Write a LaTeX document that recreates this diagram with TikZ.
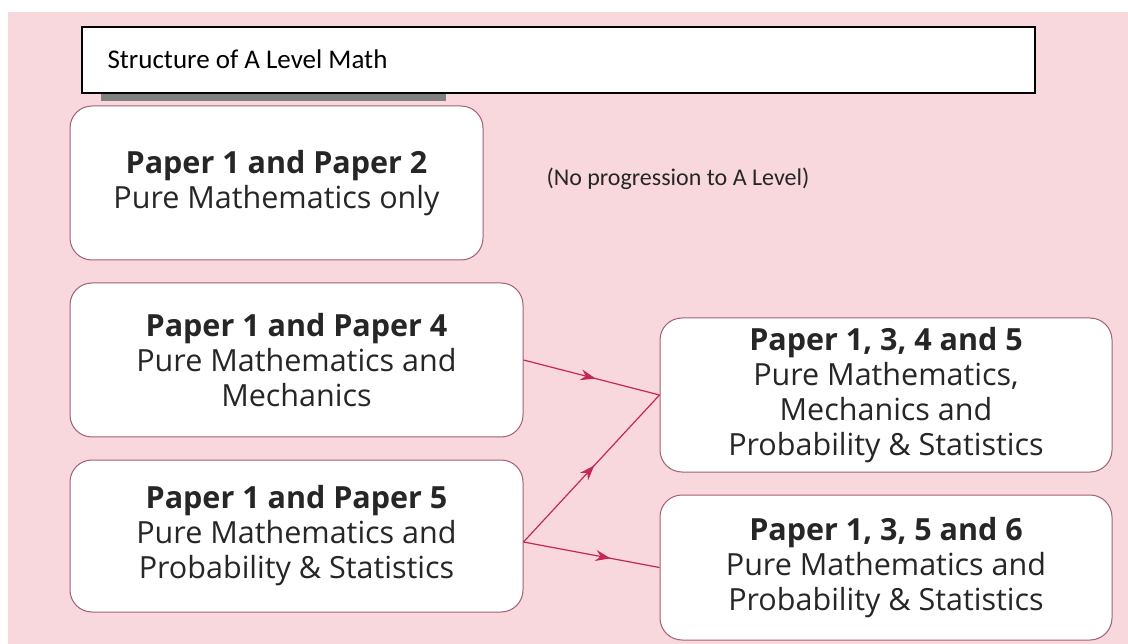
\documentclass[tikz,border=0pt]{standalone}
\usepackage{fontspec}
\setmainfont{Open Sans}
\newfontfamily\titlefont{Carlito}
\usetikzlibrary{arrows.meta,decorations.markings}

\definecolor{pinkbg}{HTML}{F8D8DC}
\definecolor{boxline}{HTML}{A0607A}
\definecolor{arrowred}{HTML}{C4285A}

\tikzset{
  paperbox/.style={draw=boxline, fill=white, rounded corners=22pt, line width=1pt,
    align=center, inner sep=0pt, text=black!85, font=\fontsize{30.5}{35}\selectfont},
  route/.style={draw=arrowred, line width=1.2pt, postaction={decorate},
    decoration={markings, mark=at position #1 with {\arrow{Stealth[length=15pt,width=11pt]}}}},
}

\begin{document}
\begin{tikzpicture}[x=1pt,y=-1pt]
        % page and pink ground
        \useasboundingbox (0,0) rectangle (1128,644);
        \fill[pinkbg] (8,12) rectangle (1128,644);

        % title bar with its grey shadow
        \fill[black!50] (101,88) rectangle (446,101);
        \draw[line width=2pt, fill=white] (82,27) rectangle (1035,93);
        \node[anchor=west, font=\titlefont\fontsize{27}{30}\selectfont] (title) at (104,59) {Structure of A Level Math};

        % left column
        \node[paperbox, minimum width=413pt, minimum height=154pt] (p12) at (276.5,183)
            {\textbf{Paper 1 and Paper 2}\\Pure Mathematics only};
        \node[paperbox, minimum width=453pt, minimum height=154pt] (p14) at (296.5,360)
            {\textbf{Paper 1 and Paper 4}\\Pure Mathematics and\\Mechanics};
        \node[paperbox, minimum width=453pt, minimum height=152pt] (p15) at (296.5,536)
            {\textbf{Paper 1 and Paper 5}\\Pure Mathematics and\\Probability \& Statistics};

        \node[anchor=west, text=black!85, font=\titlefont\fontsize{24}{28}\selectfont] (noprog) at (543,179)
            {(No progression to A Level)};

        % right column
        \node[paperbox, minimum width=452pt, minimum height=154pt] (p1345) at (886,395)
            {\textbf{Paper 1, 3, 4 and 5}\\Pure Mathematics,\\Mechanics and\\Probability \& Statistics};
        \node[paperbox, minimum width=452pt, minimum height=145pt] (p1356) at (886,567.5)
            {\textbf{Paper 1, 3, 5 and 6}\\Pure Mathematics and\\Probability \& Statistics};

        % routes
        \coordinate (s15) at ([yshift=-6pt]p15.east);
        \path[route=0.53] (p14.east) -- (p1345.west);
        \path[route=0.52] (s15) -- (p1345.west);
        \path[route=0.64] (s15) -- (p1356.west);

    \end{tikzpicture}
\end{document}
